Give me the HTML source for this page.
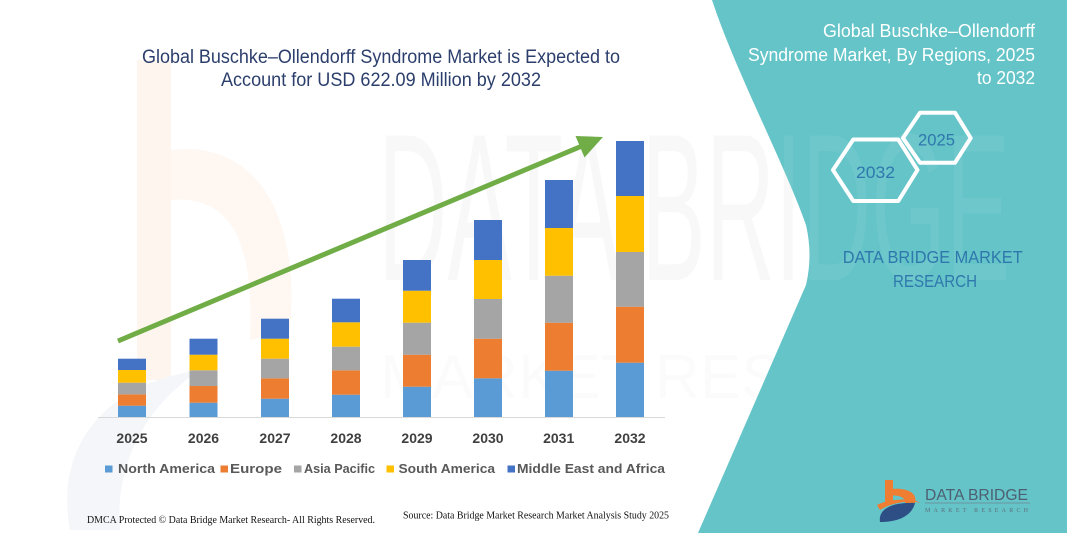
<!DOCTYPE html>
<html><head><meta charset="utf-8"><style>
html,body{margin:0;padding:0;background:#fff;}
svg{display:block;}
</style></head><body>
<svg width="1067" height="533" viewBox="0 0 1067 533" xmlns="http://www.w3.org/2000/svg">
<defs>
<clipPath id="teal"><path d="M712,0 C735,70 785,165 806,225 Q813,255 806,285 L698,533 L1067,533 L1067,0 Z"/></clipPath>
</defs>
<rect width="1067" height="533" fill="#fff"/>
<!-- faint watermark left logo -->
<rect x="137" y="60" width="34" height="320" fill="#fef5ef"/>
<path d="M171,150 C260,140 300,220 290,330 L250,340 C255,240 230,195 171,200 Z" fill="#fef7f2"/>
<path d="M70,530 C55,450 100,385 200,370 C140,410 115,470 120,530 Z" fill="#f4f6f9"/>
<!-- faint watermark text -->
<text x="378" y="280" font-family="Liberation Sans, sans-serif" font-size="210" fill="#000" fill-opacity="0.028" textLength="632" lengthAdjust="spacingAndGlyphs">DATA BRIDGE</text>
<text x="380" y="398" font-family="Liberation Sans, sans-serif" font-size="62" fill="#000" fill-opacity="0.015" textLength="620" lengthAdjust="spacing">MARKET RESEARCH</text>
<!-- teal shape -->
<path d="M712,0 C735,70 785,165 806,225 Q813,255 806,285 L698,533 L1067,533 L1067,0 Z" fill="#64c4c8"/>
<g clip-path="url(#teal)">
<text x="378" y="280" font-family="Liberation Sans, sans-serif" font-size="210" fill="#fff" fill-opacity="0.06" textLength="632" lengthAdjust="spacingAndGlyphs">DATA BRIDGE</text>
</g>
<!-- title -->
<g font-family="Liberation Sans, sans-serif" fill="#2b3e6c" font-size="19">
<text x="142" y="63" textLength="478" lengthAdjust="spacingAndGlyphs">Global Buschke–Ollendorff Syndrome Market is Expected to</text>
<text x="221" y="86" textLength="320" lengthAdjust="spacingAndGlyphs">Account for USD 622.09 Million by 2032</text>
</g>
<!-- axis -->
<line x1="98" y1="417.5" x2="665" y2="417.5" stroke="#d9d9d9" stroke-width="1"/>
<!-- bars -->
<g>
<rect x="118" y="405.7" width="28" height="11.3" fill="#5b9bd5"/>
<rect x="118" y="394.3" width="28" height="11.4" fill="#ed7d31"/>
<rect x="118" y="382.7" width="28" height="11.6" fill="#a5a5a5"/>
<rect x="118" y="370" width="28" height="12.7" fill="#ffc000"/>
<rect x="118" y="358.7" width="28" height="11.3" fill="#4472c4"/>
<rect x="189.5" y="402.7" width="28" height="14.3" fill="#5b9bd5"/>
<rect x="189.5" y="386" width="28" height="16.7" fill="#ed7d31"/>
<rect x="189.5" y="370.3" width="28" height="15.7" fill="#a5a5a5"/>
<rect x="189.5" y="354.7" width="28" height="15.6" fill="#ffc000"/>
<rect x="189.5" y="338.7" width="28" height="16" fill="#4472c4"/>
<rect x="261" y="398.7" width="28" height="18.3" fill="#5b9bd5"/>
<rect x="261" y="378.3" width="28" height="20.4" fill="#ed7d31"/>
<rect x="261" y="358.7" width="28" height="19.6" fill="#a5a5a5"/>
<rect x="261" y="338.7" width="28" height="20" fill="#ffc000"/>
<rect x="261" y="318.7" width="28" height="20" fill="#4472c4"/>
<rect x="332" y="394.7" width="28" height="22.3" fill="#5b9bd5"/>
<rect x="332" y="370.3" width="28" height="24.4" fill="#ed7d31"/>
<rect x="332" y="346.7" width="28" height="23.6" fill="#a5a5a5"/>
<rect x="332" y="322.3" width="28" height="24.4" fill="#ffc000"/>
<rect x="332" y="298.7" width="28" height="23.6" fill="#4472c4"/>
<rect x="403" y="386.7" width="28" height="30.3" fill="#5b9bd5"/>
<rect x="403" y="354.7" width="28" height="32" fill="#ed7d31"/>
<rect x="403" y="322.7" width="28" height="32" fill="#a5a5a5"/>
<rect x="403" y="290.7" width="28" height="32" fill="#ffc000"/>
<rect x="403" y="260" width="28" height="30.7" fill="#4472c4"/>
<rect x="474" y="378.3" width="28" height="38.7" fill="#5b9bd5"/>
<rect x="474" y="338.7" width="28" height="39.6" fill="#ed7d31"/>
<rect x="474" y="299" width="28" height="39.7" fill="#a5a5a5"/>
<rect x="474" y="260" width="28" height="39" fill="#ffc000"/>
<rect x="474" y="220" width="28" height="40" fill="#4472c4"/>
<rect x="545" y="370.7" width="28" height="46.3" fill="#5b9bd5"/>
<rect x="545" y="322.7" width="28" height="48" fill="#ed7d31"/>
<rect x="545" y="275.7" width="28" height="47" fill="#a5a5a5"/>
<rect x="545" y="228" width="28" height="47.7" fill="#ffc000"/>
<rect x="545" y="180" width="28" height="48" fill="#4472c4"/>
<rect x="616" y="362.7" width="28" height="54.3" fill="#5b9bd5"/>
<rect x="616" y="306.7" width="28" height="56" fill="#ed7d31"/>
<rect x="616" y="252" width="28" height="54.7" fill="#a5a5a5"/>
<rect x="616" y="196" width="28" height="56" fill="#ffc000"/>
<rect x="616" y="141" width="28" height="55" fill="#4472c4"/>
</g>
<!-- arrow -->
<line x1="118" y1="341" x2="582" y2="146" stroke="#70ad47" stroke-width="5"/>
<polygon points="603,137 584.5,157.5 575.5,136" fill="#70ad47"/>
<!-- year labels -->
<g font-family="Liberation Sans, sans-serif" font-weight="bold" font-size="14" fill="#404040" text-anchor="middle">
<text x="132" y="443">2025</text>
<text x="203.5" y="443">2026</text>
<text x="275" y="443">2027</text>
<text x="346" y="443">2028</text>
<text x="417" y="443">2029</text>
<text x="488" y="443">2030</text>
<text x="558.7" y="443">2031</text>
<text x="630" y="443">2032</text>
</g>
<!-- legend -->
<g font-family="Liberation Sans, sans-serif" font-weight="bold" font-size="13" fill="#595959">
<rect x="105" y="465.5" width="7.5" height="7" fill="#5b9bd5"/>
<text x="118" y="473" textLength="97" lengthAdjust="spacingAndGlyphs">North America</text>
<rect x="220.5" y="465.5" width="7.5" height="7" fill="#ed7d31"/>
<text x="230" y="473" textLength="52" lengthAdjust="spacingAndGlyphs">Europe</text>
<rect x="294" y="465.5" width="7.5" height="7" fill="#a5a5a5"/>
<text x="304" y="473" textLength="71" lengthAdjust="spacingAndGlyphs">Asia Pacific</text>
<rect x="386.5" y="465.5" width="7.5" height="7" fill="#ffc000"/>
<text x="398.5" y="473" textLength="96.5" lengthAdjust="spacingAndGlyphs">South America</text>
<rect x="507.5" y="465.5" width="7.5" height="7" fill="#4472c4"/>
<text x="517" y="473" textLength="148" lengthAdjust="spacingAndGlyphs">Middle East and Africa</text>
</g>
<!-- footer -->
<g font-family="Liberation Serif, serif" font-size="10.5" fill="#111">
<text x="87" y="523" textLength="288" lengthAdjust="spacingAndGlyphs">DMCA Protected © Data Bridge Market Research-  All Rights Reserved.</text>
<text x="403" y="518.5" textLength="266" lengthAdjust="spacingAndGlyphs">Source: Data Bridge Market Research  Market Analysis Study 2025</text>
</g>
<!-- right title -->
<g font-family="Liberation Sans, sans-serif" font-size="18" fill="#ffffff" text-anchor="end">
<text x="1035" y="37" textLength="212" lengthAdjust="spacingAndGlyphs">Global Buschke–Ollendorff</text>
<text x="1035" y="61" textLength="287" lengthAdjust="spacingAndGlyphs">Syndrome Market, By Regions, 2025</text>
<text x="1035" y="84" textLength="58" lengthAdjust="spacingAndGlyphs">to 2032</text>
</g>
<!-- hexagons -->
<polygon points="920,112.7 955,112.7 970.7,138 955,162.7 920,162.7 903,138" fill="none" stroke="#fff" stroke-width="4" stroke-linejoin="round"/>
<polygon points="853.3,139.5 898.3,139.5 917.5,170 898.3,201 853.3,201 833,170" fill="none" stroke="#fff" stroke-width="4" stroke-linejoin="round"/>
<g font-family="Liberation Sans, sans-serif" font-size="17" fill="#2f78ad" text-anchor="middle">
<text x="936.5" y="145.5" textLength="37" lengthAdjust="spacingAndGlyphs">2025</text>
<text x="875.5" y="178" textLength="39" lengthAdjust="spacingAndGlyphs">2032</text>
</g>
<g font-family="Liberation Sans, sans-serif" font-size="17.5" fill="#2f78ad" text-anchor="middle">
<text x="932.7" y="263" textLength="180" lengthAdjust="spacingAndGlyphs">DATA BRIDGE MARKET</text>
<text x="935" y="287" textLength="84" lengthAdjust="spacingAndGlyphs">RESEARCH</text>
</g>
<!-- logo -->
<g>
<rect x="885" y="480" width="8" height="22" fill="#ef7d32"/>
<path d="M885,490 C905,486 918,492 915,503 L905,503 C906,497 898,494 885,496 Z" fill="#ef7d32"/>
<path d="M877,505 C890,498 915,498 920,503 C912,500 892,502 880,510 Z" fill="#ef7d32"/>
<path d="M880,522 C878,510 890,502 915,503 C912,515 900,522 880,522 Z" fill="#2e4f86"/>
<text x="925" y="500" font-family="Liberation Sans, sans-serif" font-size="16" fill="#4d5f70" textLength="103" lengthAdjust="spacingAndGlyphs">DATA BRIDGE</text>
<line x1="925" y1="503" x2="1030" y2="503" stroke="#6f8392" stroke-width="0.8"/>
<text x="925" y="512" font-family="Liberation Serif, serif" font-size="6" fill="#5d6f7e" textLength="103" lengthAdjust="spacing">MARKET RESEARCH</text>
</g>
</svg>
</body></html>
